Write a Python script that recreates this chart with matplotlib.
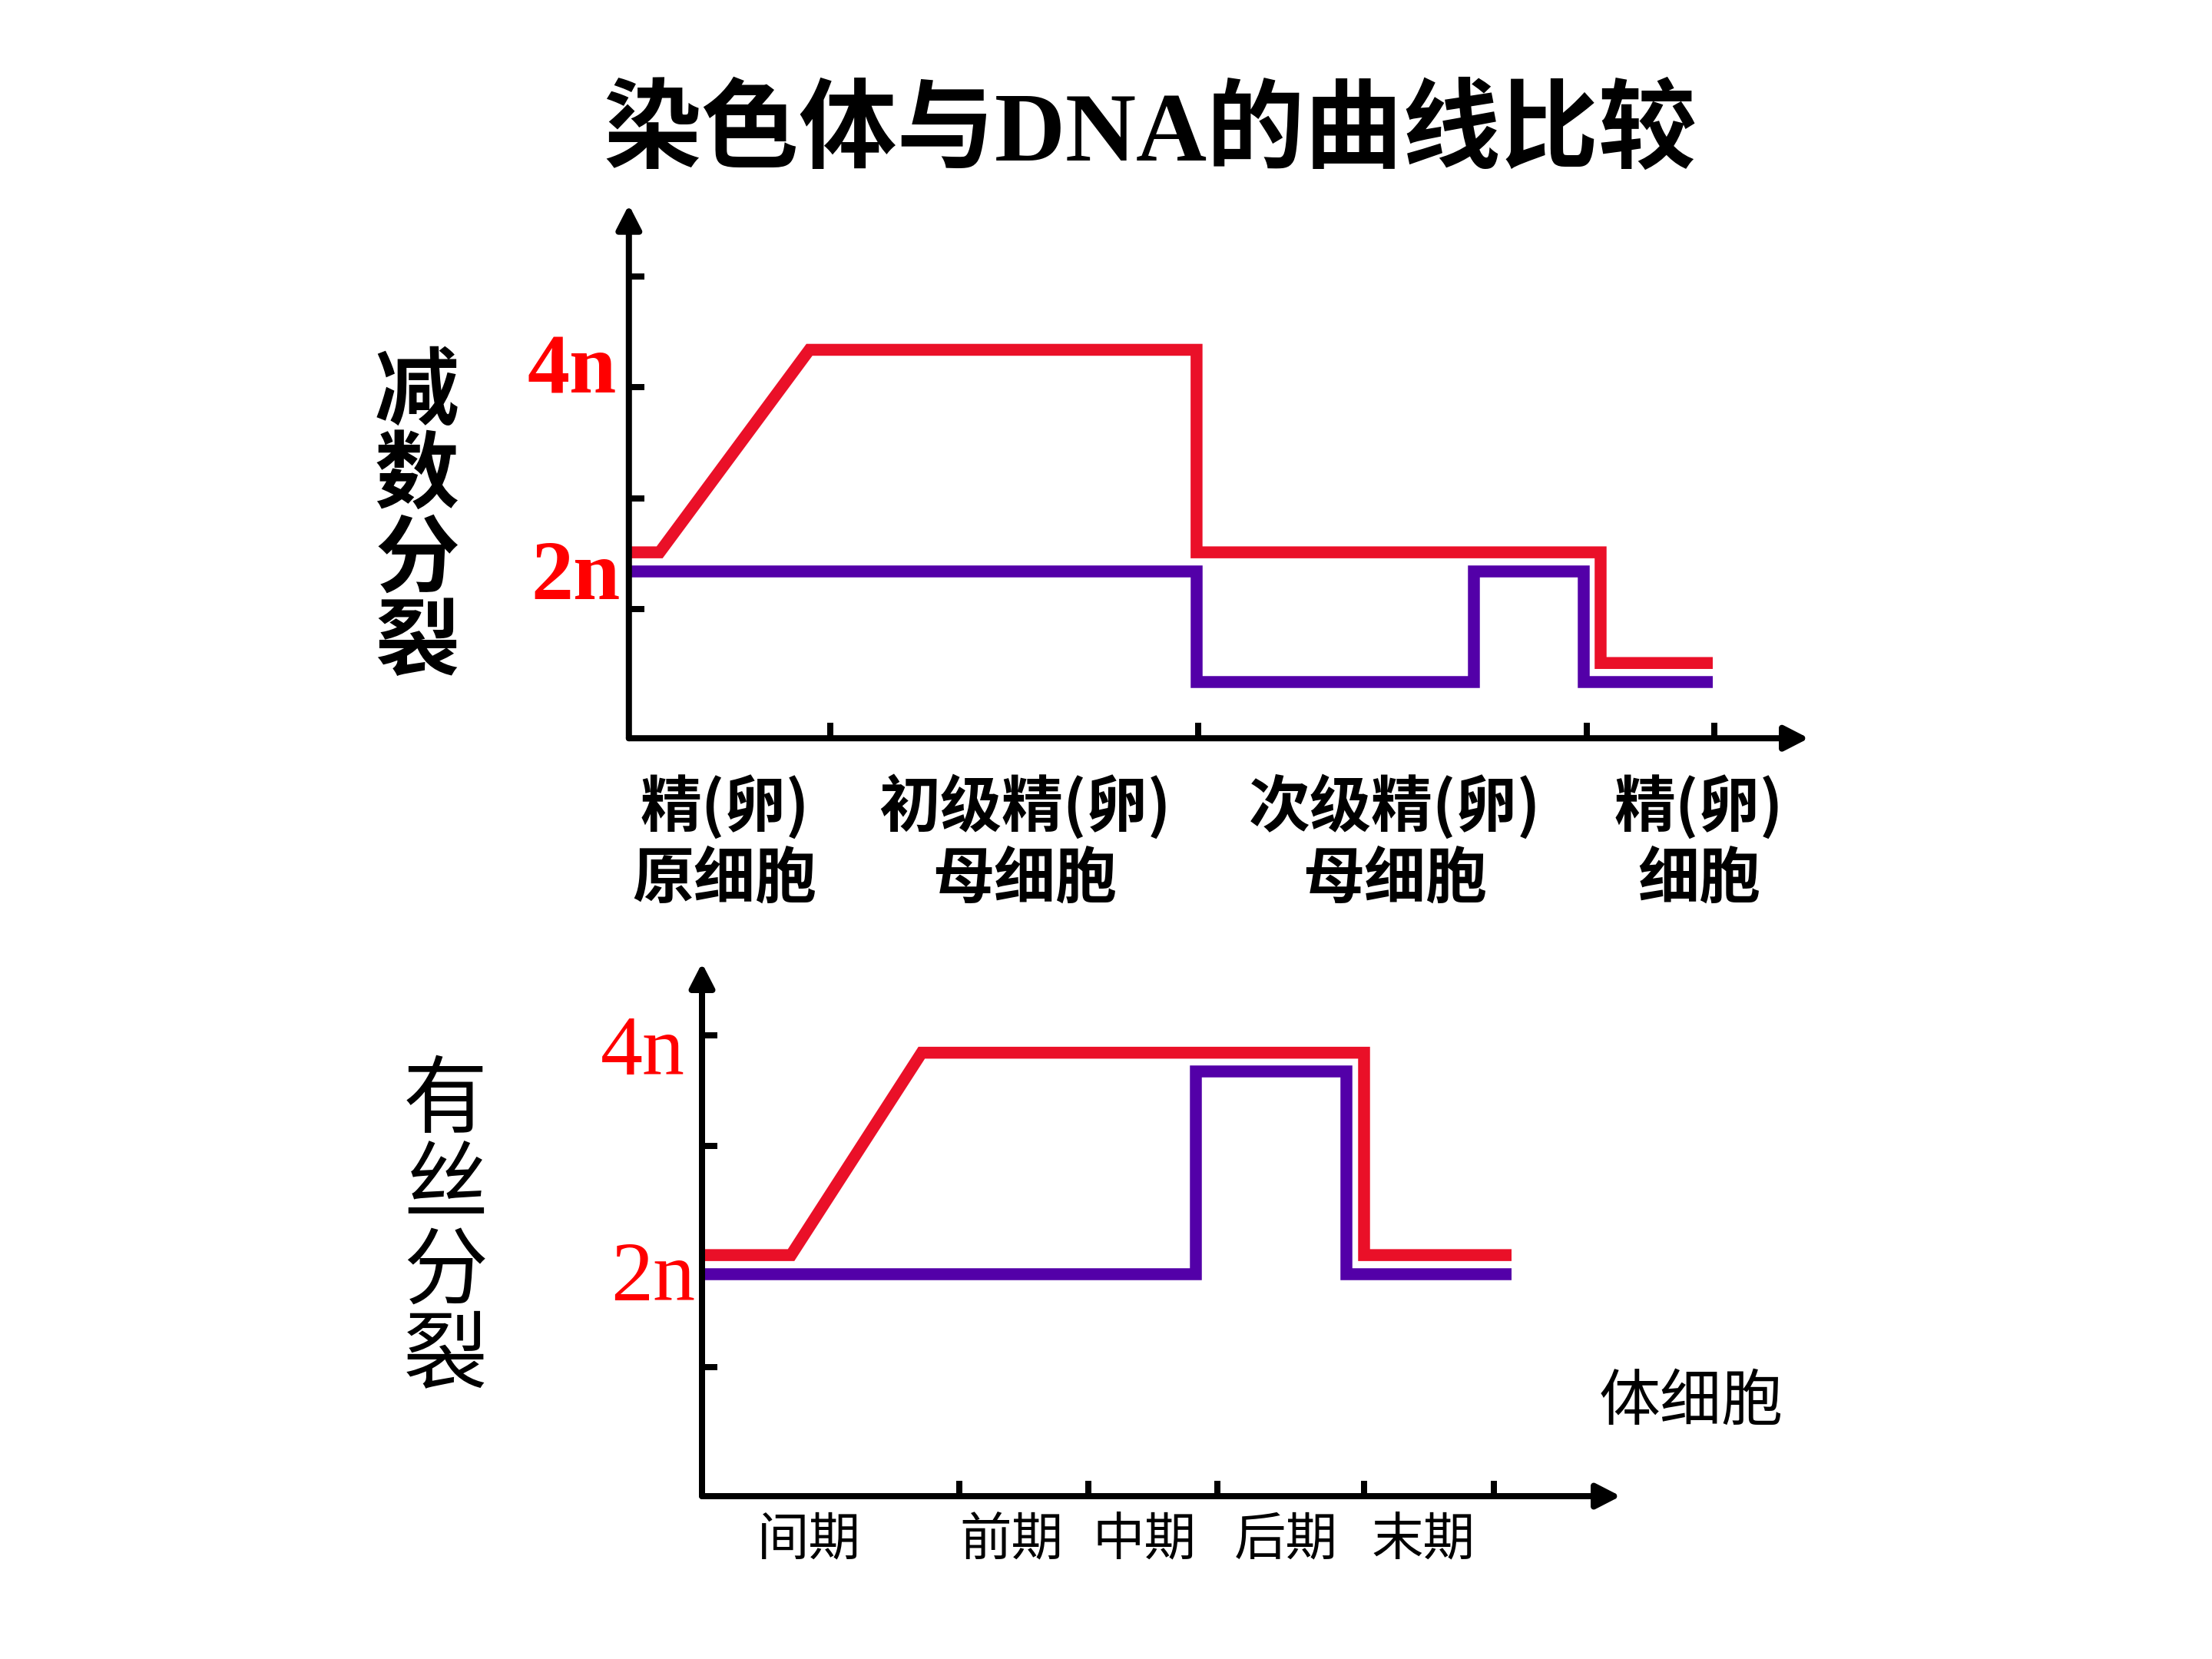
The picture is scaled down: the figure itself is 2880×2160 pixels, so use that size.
import matplotlib.pyplot as plt

# values; x in 100 px units, y in tick-spacing units
title = "染色体与DNA的曲线比较"

# meiosis panel
mei_dna_x = [0, 0.40, 2.35, 7.39, 7.39, 12.65, 12.65, 14.11]
mei_dna_y = [1.68, 1.68, 3.51, 3.51, 1.68, 1.68, 0.68, 0.68]
mei_chr_x = [0, 7.39, 7.39, 11.00, 11.00, 12.43, 12.43, 14.11]
mei_chr_y = [1.51, 1.51, 0.51, 0.51, 1.51, 1.51, 0.51, 0.51]
mei_xticks = [2.62, 7.41, 12.47, 14.13]
mei_stage_top = ["精(卵)", "初级精(卵)", "次级精(卵)", "精(卵)"]
mei_stage_bot = ["原细胞", "母细胞", "母细胞", "细胞"]
mei_stage_x = [1.25, 5.15, 9.97, 13.93]

# mitosis panel
mit_dna_x = [0, 1.16, 2.86, 8.62, 8.62, 10.54]
mit_dna_y = [2.18, 2.18, 4.01, 4.01, 2.18, 2.18]
mit_chr_x = [0, 6.43, 6.43, 8.39, 8.39, 10.54]
mit_chr_y = [2.01, 2.01, 3.84, 3.84, 2.01, 2.01]
mit_xticks = [3.35, 5.03, 6.71, 8.62, 10.31]
mit_stages = ["间期", "前期", "中期", "后期", "末期"]
mit_stage_x = [1.39, 4.03, 5.76, 7.60, 9.39]

yticks = [1.17, 2.17, 3.17, 4.17]

RED = "#EA1028"
PURPLE = "#5300A8"
CJK = ["Noto Sans CJK SC", "DejaVu Sans"]
W, H = 2880, 2160


def fx(px):
    return px / W


def fy(py):
    return 1 - py / H


fig = plt.figure(figsize=(16, 12), dpi=180)
fig.patch.set_facecolor("white")

fig.text(fx(1497), fy(175), title, ha="center", va="center", fontsize=51,
         fontweight="bold", family=["Liberation Serif", "Noto Sans CJK SC"])


def panel(rect, xmax, xticks):
    ax = fig.add_axes(rect)
    ax.set_xlim(0, xmax)
    ax.set_ylim(0, 4.82)
    for s in ax.spines.values():
        s.set_visible(False)
    ax.set_xticks(xticks)
    ax.set_yticks(yticks)
    ax.set_xticklabels([])
    ax.set_yticklabels([])
    ax.tick_params(direction="in", length=8, width=3.2, color="black")
    arrow = dict(arrowstyle="-|>,head_length=0.35,head_width=0.18",
                 lw=3.2, color="black", shrinkA=0, shrinkB=0,
                 mutation_scale=30)
    ax.annotate("", xy=(1, 0), xytext=(0, 0), xycoords="axes fraction",
                arrowprops=arrow)
    ax.annotate("", xy=(0, 1), xytext=(0, 0), xycoords="axes fraction",
                arrowprops=arrow)
    return ax


line_kw = dict(lw=6.2, solid_joinstyle="miter", solid_capstyle="butt")

# top: meiosis
ax1 = panel([fx(818.8), fy(961.2), fx(2355 - 818.8), (961.2 - 266.7) / H],
            15.36, mei_xticks)
ax1.plot(mei_chr_x, mei_chr_y, color=PURPLE, **line_kw)
ax1.plot(mei_dna_x, mei_dna_y, color=RED, **line_kw)
ax1.text(-0.16, 3.12, "4n", ha="right", va="baseline", color="red",
         fontsize=44, fontweight="bold", family="Liberation Serif")
ax1.text(-0.11, 1.26, "2n", ha="right", va="baseline", color="red",
         fontsize=44, fontweight="bold", family="Liberation Serif")
for x, t1, t2 in zip(mei_stage_x, mei_stage_top, mei_stage_bot):
    ax1.text(x, -0.62, t1, ha="center", va="center", fontsize=32,
             fontweight="bold", family=CJK)
    ax1.text(x, -1.28, t2, ha="center", va="center", fontsize=32,
             fontweight="bold", family=CJK)

for i, ch in enumerate("减数分裂"):
    fig.text(fx(543), fy(512 + i * 109), ch, ha="center", va="center",
             fontsize=44, fontweight="bold", family=CJK)

# bottom: mitosis
ax2 = panel([fx(914), fy(1948), fx(2110 - 914), (1948 - 1254) / H],
            11.96, mit_xticks)
ax2.plot(mit_chr_x, mit_chr_y, color=PURPLE, **line_kw)
ax2.plot(mit_dna_x, mit_dna_y, color=RED, **line_kw)
ax2.text(-0.22, 3.81, "4n", ha="right", va="baseline", color="red",
         fontsize=44, family="Liberation Serif")
ax2.text(-0.09, 1.77, "2n", ha="right", va="baseline", color="red",
         fontsize=44, family="Liberation Serif")
for x, t in zip(mit_stage_x, mit_stages):
    ax2.text(x, -0.40, t, ha="center", va="center", fontsize=27, family=CJK)
ax2.text(12.88, 0.85, "体细胞", ha="center", va="center", fontsize=32,
         family=CJK)

for i, ch in enumerate("有丝分裂"):
    fig.text(fx(580), fy(1435 + i * 111), ch, ha="center", va="center",
             fontsize=44, family=CJK)

fig.savefig("out.png", dpi=180, facecolor="white")
